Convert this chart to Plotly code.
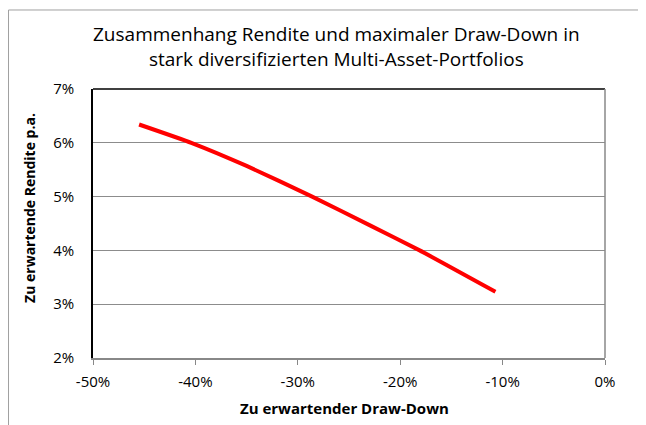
import plotly.graph_objects as go

drawdown = [-0.455, -0.404, -0.35, -0.286, -0.23, -0.181, -0.107]
rendite = [0.0634, 0.060, 0.0557, 0.050, 0.0447, 0.040, 0.0323]

title_text = "Zusammenhang Rendite und maximaler Draw-Down in<br>stark diversifizierten Multi-Asset-Portfolios"
x_title = "Zu erwartender Draw-Down"
y_title = "Zu erwartende Rendite p.a."
x_ticks = [-0.5, -0.4, -0.3, -0.2, -0.1, 0.0]
x_ticktext = ["-50%", "-40%", "-30%", "-20%", "-10%", "0%"]
y_ticks = [0.02, 0.03, 0.04, 0.05, 0.06, 0.07]
y_ticktext = ["2%", "3%", "4%", "5%", "6%", "7%"]

FONT = "Open Sans"

fig = go.Figure()
fig.add_trace(go.Scatter(
    x=drawdown, y=rendite, mode="lines",
    line=dict(color="#ff0000", width=4, shape="spline", smoothing=0.4),
    hoverinfo="skip", showlegend=False,
))

fig.update_layout(
    width=638, height=417,
    margin=dict(l=85, r=41, t=81, b=67),
    paper_bgcolor="white", plot_bgcolor="white",
    font=dict(family=FONT, color="#000000"),
    xaxis=dict(
        range=[-0.5, 0.0], tickvals=x_ticks, ticktext=x_ticktext,
        showgrid=False, zeroline=False,
        showline=True, linecolor="#888888", linewidth=1.5,
        ticks="outside", ticklen=5, tickcolor="#888888",
        ticklabelstandoff=4,
        tickfont=dict(family=FONT, size=15),
    ),
    yaxis=dict(
        range=[0.02, 0.07], tickvals=y_ticks, ticktext=y_ticktext,
        showgrid=True, gridcolor="#8c8c8c", gridwidth=1, zeroline=False,
        showline=True, linecolor="#000000", linewidth=1.5,
        ticks="", ticklabelstandoff=14,
        tickfont=dict(family=FONT, size=15),
    ),
    annotations=[
        dict(text=title_text, xref="paper", yref="paper",
             x=0.475, y=1.158, xanchor="center", yanchor="middle", showarrow=False,
             font=dict(family=FONT, size=19, color="#000000")),
        dict(text="<b>" + x_title + "</b>", xref="paper", yref="paper",
             x=0.492, y=-0.186, xanchor="center", yanchor="middle", showarrow=False,
             font=dict(family=FONT, size=15)),
        dict(text="<b>" + y_title + "</b>", xref="paper", yref="paper",
             x=-0.123, y=0.558, xanchor="center", yanchor="middle", showarrow=False,
             textangle=-90, font=dict(family=FONT, size=14)),
    ],
    shapes=[
        dict(type="line", xref="paper", yref="paper", x0=0, x1=1, y0=1, y1=1,
             line=dict(color="#000000", width=1.5)),
        dict(type="line", xref="paper", yref="paper", x0=1, x1=1, y0=0, y1=1,
             line=dict(color="#888888", width=1.5)),
        dict(type="line", xref="paper", yref="paper", x0=-0.165, x1=1.2, y0=1.2937, y1=1.2937,
             line=dict(color="#a0a0a0", width=1)),
        dict(type="line", xref="paper", yref="paper", x0=-0.165, x1=-0.165, y0=-0.3, y1=1.2937,
             line=dict(color="#a0a0a0", width=1)),
    ],
)

fig.write_html("out.html")
